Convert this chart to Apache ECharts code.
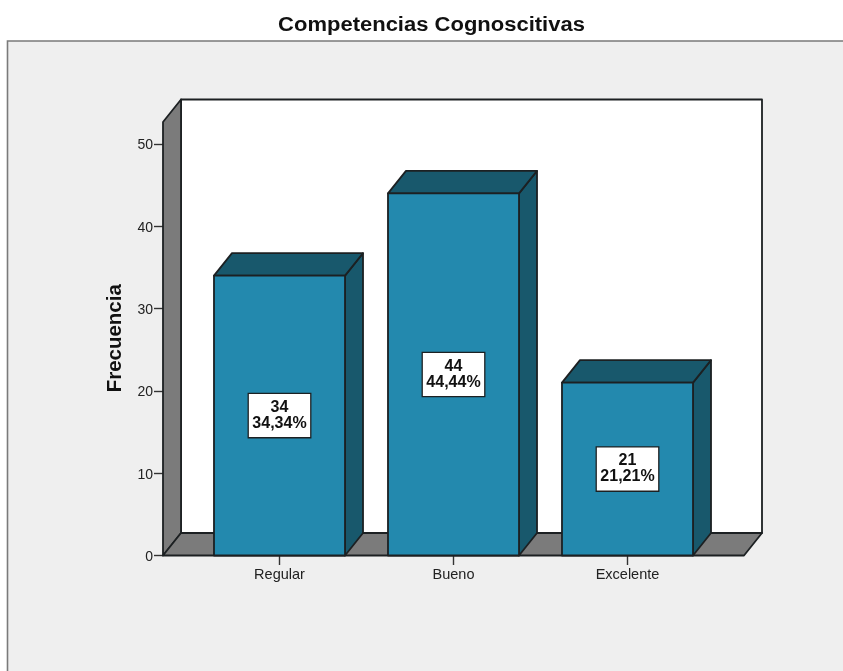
<!DOCTYPE html>
<html>
<head>
<meta charset="utf-8">
<style>html,body{margin:0;padding:0;background:#fff}#chart{width:843px;height:671px}</style>
<script src="https://cdn.jsdelivr.net/npm/echarts@6/dist/echarts.min.js"></script>
</head>
<body>
<div id="chart"></div>
<script>
// Frequency values per competency level
const categories = ['Regular', 'Bueno', 'Excelente'];
const frecuencias = [34, 44, 21];
const porcentajes = [34.34, 44.44, 21.21];
const yTicks = { min: 0, max: 50, interval: 10 };
const titulo = 'Competencias Cognoscitivas';

// Box drawing constants
const DEPTH_X = 18, DEPTH_Y = 22.5;
const BAR_RATIO = 0.753;
const WALL_OVERHANG = 29.5;   // floor extends past the outer category bands
const WALL_HEADROOM = 22;     // wall rises above the top tick
const INK = '#1c2022', GREY = '#7b7b7b';
const FRONT = '#2389ae', SHADE = '#18586c';

const chart = echarts.init(document.getElementById('chart'));

function poly(points, fill) {
  return { type: 'polygon', shape: { points },
    style: { fill, stroke: INK, lineWidth: 1.8, lineJoin: 'round' } };
}

// Back wall, side wall and floor of the 3D frame
function renderFrame(params, api) {
  const band = api.size([1, 0])[0];
  const firstC = api.coord([0, 0]);
  const lastC = api.coord([categories.length - 1, 0]);
  const topY = api.coord([0, yTicks.max])[1] - WALL_HEADROOM;
  const l = firstC[0] - band / 2 - WALL_OVERHANG;
  const r = lastC[0] + band / 2 + WALL_OVERHANG;
  const b = firstC[1];
  return { type: 'group', children: [
    poly([[l + DEPTH_X, topY - DEPTH_Y], [r + DEPTH_X, topY - DEPTH_Y], [r + DEPTH_X, b - DEPTH_Y], [l + DEPTH_X, b - DEPTH_Y]], '#ffffff'),
    poly([[l, topY], [l + DEPTH_X, topY - DEPTH_Y], [l + DEPTH_X, b - DEPTH_Y], [l, b]], GREY),
    poly([[l, b], [l + DEPTH_X, b - DEPTH_Y], [r + DEPTH_X, b - DEPTH_Y], [r, b]], GREY)
  ] };
}

// One extruded bar with its value box
function renderBar(params, api) {
  const band = api.size([1, 0])[0];
  const w = band * BAR_RATIO;
  const idx = api.value(0);
  const top = api.coord([idx, api.value(1)]);
  const base = api.coord([idx, 0]);
  const x0 = top[0] - w / 2, x1 = top[0] + w / 2;
  const pct = api.value(2).toFixed(2).replace('.', ',');
  return { type: 'group', children: [
    poly([[x1, top[1]], [x1 + DEPTH_X, top[1] - DEPTH_Y], [x1 + DEPTH_X, base[1] - DEPTH_Y], [x1, base[1]]], SHADE),
    poly([[x0, top[1]], [x0 + DEPTH_X, top[1] - DEPTH_Y], [x1 + DEPTH_X, top[1] - DEPTH_Y], [x1, top[1]]], SHADE),
    poly([[x0, top[1]], [x1, top[1]], [x1, base[1]], [x0, base[1]]], FRONT),
    { type: 'text', x: top[0], y: (top[1] + base[1]) / 2, z2: 10,
      style: {
        text: api.value(1) + '\n' + pct + '%',
        align: 'center', verticalAlign: 'middle',
        font: 'bold 16px "Liberation Sans"', lineHeight: 16, fill: '#111',
        backgroundColor: '#fff', borderColor: INK, borderWidth: 1.3,
        padding: [6, 3.5, 5, 3.5]
      } }
  ] };
}

chart.setOption({
  animation: false,
  backgroundColor: '#ffffff',
  graphic: [{
    type: 'rect', z: -10, silent: true,
    shape: { x: 7.5, y: 41, width: 860, height: 660 },
    style: { fill: '#efefef', stroke: '#7a7a7a', lineWidth: 1.6 }
  }, {
    // Heading, widened a little for the loose SPSS letterfit
    type: 'text', x: 431.5, y: 25, scaleX: 1.1, silent: true,
    style: {
      text: titulo, align: 'center', verticalAlign: 'middle',
      font: 'bold 20px "Liberation Sans"', fill: '#111'
    }
  }],
  grid: { left: 192.5, top: 144, width: 522, height: 411.5, containLabel: false },
  xAxis: {
    type: 'category', data: categories,
    axisLine: { show: false },
    axisTick: { show: true, alignWithLabel: true, length: 9.5, lineStyle: { color: '#333', width: 1.4 } },
    axisLabel: { fontFamily: 'Liberation Sans', fontSize: 14.5, color: '#222', margin: 12 }
  },
  yAxis: {
    type: 'value', min: yTicks.min, max: yTicks.max, interval: yTicks.interval,
    offset: WALL_OVERHANG,
    name: 'Frecuencia', nameLocation: 'middle', nameRotate: 90, nameGap: 37,
    nameTextStyle: { fontFamily: 'Liberation Sans', fontWeight: 'bold', fontSize: 20.5, color: '#111', padding: [0, 0, 0, 23] },
    splitLine: { show: false },
    axisLine: { show: false },
    axisTick: { show: true, length: 9, lineStyle: { color: '#333', width: 1.4 } },
    axisLabel: { fontFamily: 'Liberation Sans', fontSize: 14, color: '#222', margin: 10, verticalAlign: 'top', lineHeight: 3 }
  },
  series: [
    { type: 'custom', silent: true, z: 1, renderItem: renderFrame,
      encode: { x: 0, y: 1 }, data: [[categories[0], 0]] },
    { type: 'custom', silent: true, z: 2, renderItem: renderBar,
      encode: { x: 0, y: 1 },
      data: categories.map((c, i) => [c, frecuencias[i], porcentajes[i]]) }
  ]
});
</script>
</body>
</html>
